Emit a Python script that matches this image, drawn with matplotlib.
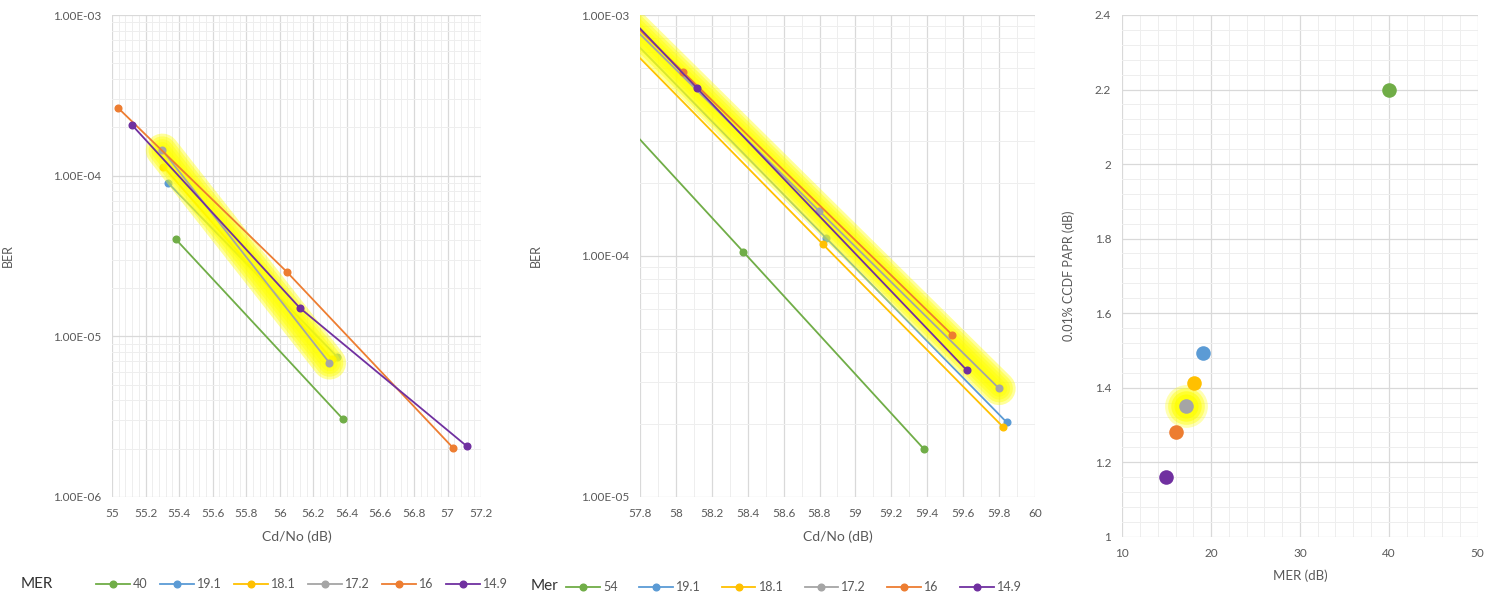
import matplotlib
matplotlib.use("Agg")
import matplotlib.pyplot as plt
from matplotlib.lines import Line2D
from matplotlib.ticker import MultipleLocator, LogLocator, FuncFormatter, NullFormatter

plt.rcParams['font.family'] = ['Lato', 'DejaVu Sans']

# ---------------- data ----------------
series_colors = ['#70AD47', '#5B9BD5', '#FFC000', '#A5A5A5', '#ED7D31', '#7030A0']

# Left chart: BER vs Cd/No for each MER
left_labels = ['40', '19.1', '18.1', '17.2', '16', '14.9']
left_x = [
    [55.38, 56.377],
    [55.336, 56.34],
    [55.306, 56.31],
    [55.30, 56.296],
    [55.036, 56.04, 57.035],
    [55.12, 56.12, 57.115],
]
left_ber = [
    [4.02e-5, 3.05e-6],
    [8.97e-5, 7.48e-6],
    [1.14e-4, 7.2e-6],
    [1.44e-4, 6.83e-6],
    [2.64e-4, 2.53e-5, 2.01e-6],
    [2.06e-4, 1.50e-5, 2.07e-6],
]

# Middle chart: BER vs Cd/No for each Mer
mid_labels = ['54', '19.1', '18.1', '17.2', '16', '14.9']
mid_x = [
    [57.6, 58.376, 59.382],
    [57.6, 58.836, 59.843],
    [57.6, 58.818, 59.82],
    [57.6, 58.797, 59.80],
    [57.6, 58.038, 59.54],
    [57.6, 58.116, 59.62],
]
mid_ber = [
    [4.42e-4, 1.04e-4, 1.58e-5],
    [1.04e-3, 1.19e-4, 2.04e-5],
    [9.4e-4, 1.12e-4, 1.96e-5],
    [1.17e-3, 1.54e-4, 2.82e-5],
    [1.21e-3, 5.82e-4, 4.70e-5],
    [1.26e-3, 4.99e-4, 3.36e-5],
]

# Right chart: PAPR vs MER
mer_db = [40, 19.1, 18.1, 17.2, 16, 14.9]
papr_db = [2.2, 1.493, 1.412, 1.351, 1.28, 1.16]

highlight_index = 3  # the 17.2 series carries a glow

# ---------------- style ----------------
GRID_MAJOR = '#d9d9d9'
GRID_MINOR = '#eeeeee'
TEXT = '#595959'
GLOW = '#FFFF00'

fig = plt.figure(figsize=(14.9, 6.0), dpi=100)
fig.patch.set_facecolor('white')


def style_axes(ax):
    for sp in ax.spines.values():
        sp.set_visible(False)
    ax.grid(True, which='major', color=GRID_MAJOR, linewidth=0.9)
    ax.grid(True, which='minor', color=GRID_MINOR, linewidth=0.7)
    ax.set_axisbelow(True)
    ax.tick_params(which='both', length=0, colors=TEXT, labelsize=8.5, pad=8)


def glow_line(ax, x, y, z, widths=(24, 20, 16, 12, 8)):
    for w in widths:
        ax.plot(x, y, color=GLOW, lw=w, alpha=0.4, solid_capstyle='round',
                zorder=z, clip_on=True)


def sci_fmt(v, pos):
    return f"{v:.2E}"


def g_fmt(v, pos):
    return f"{round(v, 3):g}"


def ber_chart(ax, xs, ys, labels, xlim, ylim, xmajor, xminor):
    ax.set_yscale('log')
    for i, (x, y) in enumerate(zip(xs, ys)):
        z = 3 + i
        if i == highlight_index:
            glow_line(ax, x, y, z - 0.5)
        ax.plot(x, y, color=series_colors[i], lw=1.3, marker='o', ms=4.8,
                zorder=z, label=labels[i])
    ax.set_xlim(*xlim)
    ax.set_ylim(*ylim)
    ax.xaxis.set_major_locator(MultipleLocator(xmajor))
    ax.xaxis.set_minor_locator(MultipleLocator(xminor))
    ax.xaxis.set_major_formatter(FuncFormatter(g_fmt))
    ax.yaxis.set_major_locator(LogLocator(base=10))
    ax.yaxis.set_minor_locator(LogLocator(base=10, subs=range(2, 10)))
    ax.yaxis.set_major_formatter(FuncFormatter(sci_fmt))
    ax.yaxis.set_minor_formatter(NullFormatter())
    style_axes(ax)
    ax.set_xlabel('Cd/No (dB)', color=TEXT, fontsize=10, labelpad=8)
    ax.set_ylabel('BER', color=TEXT, fontsize=9, labelpad=28)


# Left chart
ax1 = fig.add_axes([0.0752, 0.1717, 0.2477, 0.8033])
ber_chart(ax1, left_x, left_ber, left_labels, (55, 57.2), (1e-6, 1e-3), 0.2, 0.04)

# Middle chart
ax2 = fig.add_axes([0.4295, 0.1717, 0.2651, 0.8033])
ber_chart(ax2, mid_x, mid_ber, mid_labels, (57.8, 60), (1e-5, 1e-3), 0.2, 0.1)

# Right chart
ax3 = fig.add_axes([0.7532, 0.1055, 0.2385, 0.8695])
for i, (m, p) in enumerate(zip(mer_db, papr_db)):
    if i == highlight_index:
        for s, a in ((950, 0.3), (700, 0.4), (480, 0.55), (300, 0.7)):
            ax3.scatter([m], [p], s=s, color=GLOW, alpha=a, lw=0, zorder=2)
    ax3.scatter([m], [p], s=110, color=series_colors[i], lw=0, zorder=3)
ax3.set_xlim(10, 50)
ax3.set_ylim(1, 2.4)
ax3.xaxis.set_major_locator(MultipleLocator(10))
ax3.xaxis.set_minor_locator(MultipleLocator(2))
ax3.yaxis.set_major_locator(MultipleLocator(0.2))
ax3.yaxis.set_minor_locator(MultipleLocator(0.04))
ax3.xaxis.set_major_formatter(FuncFormatter(g_fmt))
ax3.yaxis.set_major_formatter(FuncFormatter(g_fmt))
style_axes(ax3)
ax3.set_xlabel('MER (dB)', color=TEXT, fontsize=9.5, labelpad=8)
ax3.set_ylabel('0.01% CCDF PAPR (dB)', color=TEXT, fontsize=9, labelpad=14)


# Legends below the BER charts
def series_handles():
    return [Line2D([0], [0], color=c, lw=1.3, marker='o', ms=4.8) for c in series_colors]


fig.text(21 / 1490, 1 - 584 / 600, 'MER', fontsize=11, color='#333333', va='center')
fig.legend(series_handles(), left_labels, loc='center left',
           bbox_to_anchor=(96 / 1490, 1 - 584 / 600), ncol=6, frameon=False,
           fontsize=9, labelcolor=TEXT, handlelength=2.7, handletextpad=0.25,
           columnspacing=1.0, borderaxespad=0, borderpad=0)

fig.text(531 / 1490, 1 - 586 / 600, 'Mer', fontsize=11, color='#333333', va='center')
fig.legend(series_handles(), mid_labels, loc='center left',
           bbox_to_anchor=(566 / 1490, 1 - 587 / 600), ncol=6, frameon=False,
           fontsize=9, labelcolor=TEXT, handlelength=2.7, handletextpad=0.25,
           columnspacing=1.7, borderaxespad=0, borderpad=0)

fig.savefig('out.png', dpi=100, facecolor='white')
